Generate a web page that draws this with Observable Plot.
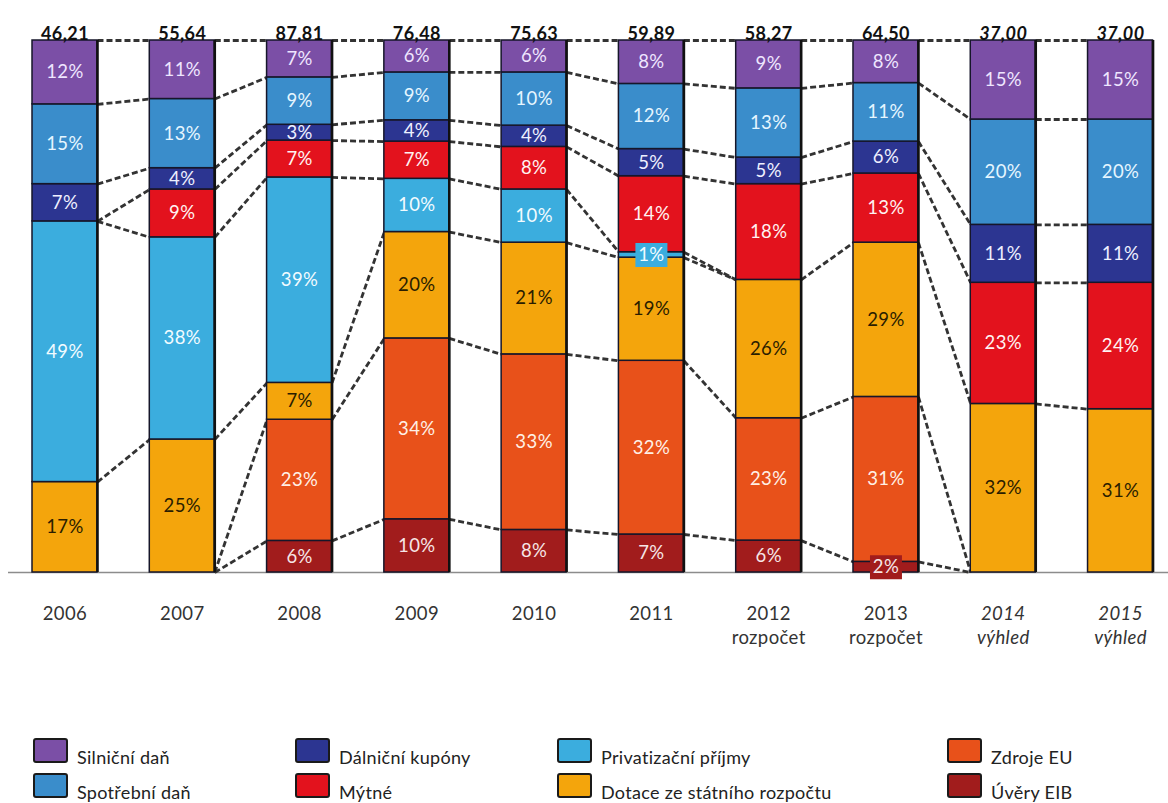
<!DOCTYPE html>
<html><head><meta charset="utf-8">
<script src="https://cdn.jsdelivr.net/npm/d3@7"></script>
<script src="https://cdn.jsdelivr.net/npm/@observablehq/plot@0.6"></script>
<style>
body{margin:0;background:#fff;font-family:Lato,"Noto Sans",sans-serif;}
#wrap{position:relative;width:1168px;height:803px;overflow:hidden;background:#fff}
#legend{position:absolute;left:0;top:0;width:1168px;height:803px}
.item{position:absolute;display:flex;align-items:flex-end;font-size:18px;color:#222;white-space:nowrap}
.sw{width:35px;height:25px;border:2px solid #1a1a1a;border-radius:3px;margin-right:9px;box-sizing:border-box}
.item span{line-height:18px;margin-bottom:-3px;letter-spacing:0.3px}
#chart svg text{letter-spacing:0.4px}
</style></head><body><div id="wrap"><div id="chart"></div><div id="legend"></div></div>
<script>
// ---- data ----
const categories = ["2006","2007","2008","2009","2010","2011","2012","2013","2014","2015"];
const subLabels  = ["","","","","","","rozpočet","rozpočet","výhled","výhled"];
const totals     = ["46,21","55,64","87,81","76,48","75,63","59,89","58,27","64,50","37,00","37,00"];
// stack order bottom -> top
const seriesNames = ["Úvěry EIB","Zdroje EU","Dotace ze státního rozpočtu","Privatizační příjmy","Mýtné","Dálniční kupóny","Spotřební daň","Silniční daň"];
const uveryEIB    = [0,0,6,10,8,7,6,2,0,0];
const zdrojeEU    = [0,0,23,34,33,32,23,31,0,0];
const dotace      = [17,25,7,20,21,19,26,29,32,31];
const privatizace = [49,38,39,10,10,1,0,0,0,0];
const mytne       = [0,9,7,7,8,14,18,13,23,24];
const dalnicni    = [7,4,3,4,4,5,5,6,11,11];
const spotrebni   = [15,13,9,9,10,12,13,11,20,20];
const silnicni    = [12,11,7,6,6,8,9,8,15,15];
const seriesColors = ["#a11c1c","#e8511a","#f4a50c","#3badde","#e3121d","#2c3591","#3a8dcb","#7b4fa6"];
const labelColors  = ["#f6e6e6","#fff0e6","#2a1d00","#f2fbff","#fff2f2","#eef0ff","#e6f6ff","#efe6ff"];
// legend layout order (column by column)
const legendOrder = ["Silniční daň","Spotřební daň","Dálniční kupóny","Mýtné","Privatizační příjmy","Dotace ze státního rozpočtu","Zdroje EU","Úvěry EIB"];

// ---- derived ----
const seriesValues = [uveryEIB,zdrojeEU,dotace,privatizace,mytne,dalnicni,spotrebni,silnicni];
const hw = 0.277; // half bar width in x units
const segments = [];
categories.forEach((c,i)=>{
  const tot = d3.sum(seriesValues, v=>v[i]);
  let acc = 0;
  seriesValues.forEach((vals,s)=>{
    const v = vals[i];
    const y1 = acc/tot*100; acc += v; const y2 = acc/tot*100;
    segments.push({i, cat:c, s, series:seriesNames[s], value:v, y1, y2, mid:(y1+y2)/2});
  });
});
const links = [];
for (let i=0;i<categories.length-1;i++){
  for (let s=0;s<seriesNames.length;s++){
    const a = segments.find(d=>d.i===i && d.s===s).y2;
    const b = segments.find(d=>d.i===i+1 && d.s===s).y2;
    if (a===0 && b===0) continue;
    if (links.some(l=>l.i===i && Math.abs(l.ya-a)<1e-9 && Math.abs(l.yb-b)<1e-9)) continue;
    links.push({i, ya:a, yb:b});
  }
}
const shown = segments.filter(d=>d.value>0);
const boxSymbol = {draw(ctx){ ctx.moveTo(-16,-12); ctx.lineTo(16,-12); ctx.lineTo(16,12); ctx.lineTo(-16,12); ctx.closePath(); }};
const idx = categories.map((c,i)=>i);

const labelMarks = seriesNames.map((name,s)=>Plot.text(shown.filter(d=>d.s===s), {
  x:"i", y:"mid", text:d=>d.value+"%", fill:labelColors[s], fontSize:18.5
}));

const chart = Plot.plot({
  width:1168, height:690,
  marginLeft:8, marginRight:0, marginTop:40, marginBottom:118,
  x:{type:"linear", domain:[-0.4817, 9.409], axis:null},
  y:{domain:[0,100], axis:null},
  color:{domain:seriesNames, range:seriesColors},
  style:{fontFamily:"Lato, 'Noto Sans', sans-serif", background:"white", overflow:"visible"},
  marks:[
    Plot.ruleY([0], {stroke:"#8c8c8c", strokeWidth:1.5}),
    Plot.link(links, {x1:d=>d.i+hw, x2:d=>d.i+1-hw, y1:"ya", y2:"yb", stroke:"#333", strokeWidth:2.8, strokeDasharray:"6,3", curve:"linear"}),
    Plot.rect(shown, {x1:d=>d.i-hw, x2:d=>d.i+hw, y1:"y1", y2:"y2", fill:"series", stroke:"#16162a", strokeWidth:1.5}),
    Plot.ruleX(idx, {x:d=>d+hw, y1:0, y2:100, stroke:"#111", strokeWidth:2.6}),
    Plot.dot(shown.filter(d=>d.value<=2), {x:"i", y:"mid", symbol:boxSymbol, r:10, fill:"series", stroke:null}),
    ...labelMarks,
    Plot.text(idx.filter(i=>i<8), {x:d=>d, frameAnchor:"top", dy:-13, text:i=>totals[i], fontWeight:"bold", fontSize:18, fill:"#111"}),
    Plot.text(idx.filter(i=>i>=8), {x:d=>d, frameAnchor:"top", dy:-13, text:i=>totals[i], fontWeight:"bold", fontStyle:"italic", fontSize:18, fill:"#111"}),
    Plot.text(idx.filter(i=>i<8), {x:d=>d, frameAnchor:"bottom", dy:47, text:i=>categories[i], fontSize:18.5, fill:"#333"}),
    Plot.text(idx.filter(i=>i<8), {x:d=>d, frameAnchor:"bottom", dy:71, text:i=>subLabels[i], fontSize:18.5, fill:"#333"}),
    Plot.text(idx.filter(i=>i>=8), {x:d=>d, frameAnchor:"bottom", dy:47, text:i=>categories[i], fontSize:18.5, fontStyle:"italic", fill:"#333"}),
    Plot.text(idx.filter(i=>i>=8), {x:d=>d, frameAnchor:"bottom", dy:71, text:i=>subLabels[i], fontSize:18.5, fontStyle:"italic", fill:"#333"})
  ]
});
document.getElementById("chart").appendChild(chart);

// legend
const colX = [33, 295, 557, 947];
const rowY = [738, 773];
const legend = document.getElementById("legend");
legendOrder.forEach((name,k)=>{
  const col = Math.floor(k/2), row = k%2;
  const s = seriesNames.indexOf(name);
  const el = document.createElement("div");
  el.className = "item";
  el.style.left = colX[col]+"px";
  el.style.top = rowY[row]+"px";
  el.innerHTML = `<div class="sw" style="background:${seriesColors[s]}"></div><span>${name}</span>`;
  legend.appendChild(el);
});
</script></body></html>
